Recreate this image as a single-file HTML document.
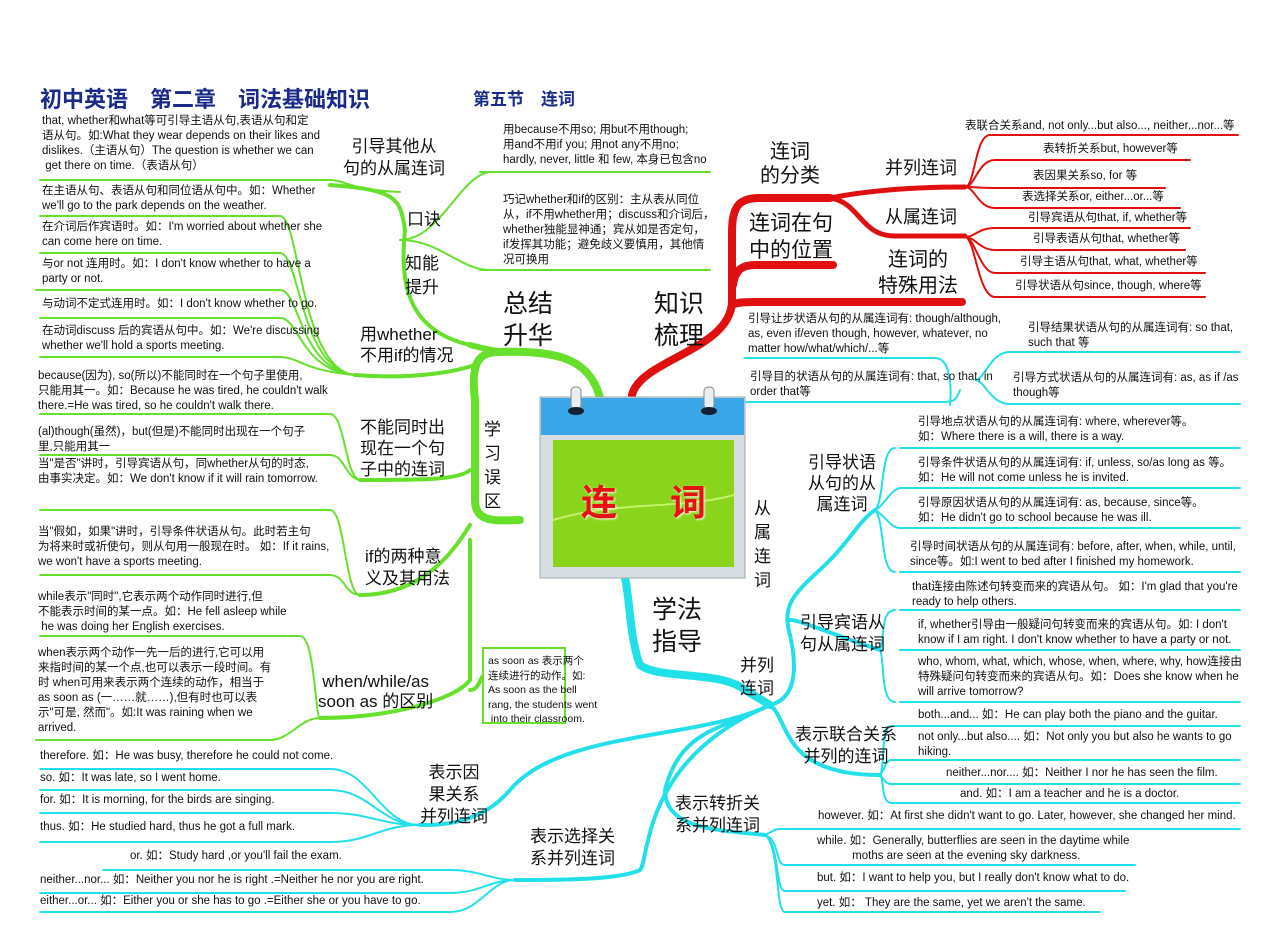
<!DOCTYPE html>
<html><head><meta charset="utf-8">
<style>
*{margin:0;padding:0;box-sizing:border-box}
body{width:1280px;height:949px;background:#fff;position:relative;overflow:hidden;font-family:"Liberation Sans","Noto Sans CJK SC",sans-serif;color:#111}
.t{position:absolute;font-size:11.5px;line-height:15px;white-space:nowrap}
.m{position:absolute;font-size:17px;line-height:21px;text-align:center;white-space:nowrap}
.b{position:absolute;font-size:25px;line-height:32px;text-align:center;white-space:nowrap}
svg{position:absolute;left:0;top:0}
</style></head><body>
<svg width="1280" height="949" fill="none" stroke-linecap="round">
<!-- GREEN -->
<g stroke="#66e02a" stroke-width="2">
<path d="M40 180 H330 C345 180 350 190 400 192"/>
<path d="M40 216 H280 C300 216 300 370 355 375"/>
<path d="M40 253 H280 C300 253 300 370 355 375"/>
<path d="M36 290 H280 C300 290 300 370 355 375"/>
<path d="M40 318 H280 C300 318 300 370 355 375"/>
<path d="M40 357 H280 C300 357 300 370 355 375"/>
<path d="M40 414 H330 C345 414 345 478 360 480"/>
<path d="M40 455 H330 C345 455 345 478 360 480"/>
<path d="M40 510 H330 C345 510 345 595 360 595"/>
<path d="M40 575 H330 C345 575 345 595 360 595"/>
<path d="M40 636 H300 C315 636 315 718 320 718"/>
<path d="M36 740 H270 C290 740 300 718 320 718"/>
<path d="M480 172 H710"/>
<path d="M480 270 H710"/>
<path d="M400 240 C440 240 460 175 490 172"/>
<path d="M400 240 C440 240 460 270 490 270"/>
</g>
<g stroke="#66e02a" stroke-width="4">
<path d="M330 185 C400 190 400 200 405 230 C400 280 405 330 470 345"/>
<path d="M355 375 C420 380 460 370 475 365"/>
<path d="M360 480 C420 480 460 480 470 470"/>
<path d="M360 595 C430 595 460 540 470 525"/>
<path d="M320 718 C390 718 455 700 470 680 L470 540"/>
<path d="M470 690 C480 690 480 675 485 675"/>
</g>
<path d="M600 398 C590 360 560 350 500 352 C480 352 470 360 475 400 L475 500 C475 525 500 520 520 520" stroke="#66e02a" stroke-width="8"/>
<path d="M470 345 C490 350 500 352 510 352" stroke="#66e02a" stroke-width="6"/>
<rect x="483" y="648" width="82" height="75" fill="#fff" stroke="#66e02a" stroke-width="2"/>
<!-- RED -->
<g stroke="#e01010" stroke-width="2">
<path d="M965 187 C975 187 975 135 990 135 H1238"/>
<path d="M965 187 C975 187 978 160 995 160 H1190"/>
<path d="M965 187 C978 187 980 188 995 188 H1165"/>
<path d="M965 187 C975 187 978 208 995 208 H1180"/>
<path d="M965 237 C975 237 978 228 995 228 H1190"/>
<path d="M965 237 C975 237 980 250 995 250 H1185"/>
<path d="M965 237 C975 237 980 273 995 273 H1205"/>
<path d="M965 237 C975 237 978 297 995 297 H1205"/>
</g>
<g stroke="#e01010" stroke-width="5">
<path d="M830 198 C870 190 920 187 965 187"/>
<path d="M830 198 C860 202 860 236 895 236 H965"/>
</g>
<g stroke="#e01010" stroke-width="8">
<path d="M632 395 C640 360 730 350 732 302 L732 232 C732 205 740 198 760 198 H830"/>
<path d="M733 285 C735 270 742 265 755 265 H833"/>
<path d="M732 305 C738 302 745 302 760 302 H962"/>
</g>
<!-- CYAN -->
<g stroke="#22e0ea" stroke-width="2">
<path d="M745 358 H935 C955 358 950 405 950 405"/>
<path d="M745 402 H935 C955 402 955 402 960 390"/>
<path d="M1010 352 H1240"/>
<path d="M1010 404 H1240"/>
<path d="M1010 352 C990 352 985 380 975 380 C985 380 990 404 1010 404"/>
<path d="M900 448 H1240"/><path d="M900 488 H1240"/><path d="M900 528 H1240"/><path d="M900 572 H1240"/>
<path d="M895 448 C880 448 885 500 875 510 C885 520 880 572 895 572"/>
<path d="M875 510 C885 505 890 490 900 488 M875 510 C885 515 890 528 900 528"/>
<path d="M900 610 H1240"/><path d="M900 650 H1240"/><path d="M900 702 H1240"/>
<path d="M895 610 C880 610 885 640 880 650 C885 660 880 702 895 702"/>
<path d="M890 726 H1240"/><path d="M890 760 H1240"/><path d="M890 784 H1240"/><path d="M890 803 H1240"/>
<path d="M892 726 C880 726 885 770 880 775 C885 780 880 803 892 803"/>
<path d="M880 775 C885 770 885 760 892 760 M880 775 C885 780 885 784 892 784"/>
<path d="M780 829 H1240"/><path d="M785 865 H1135"/><path d="M785 891 H1125"/><path d="M785 912 H1100"/>
<path d="M765 835 C775 830 775 829 780 829 M765 835 C780 840 775 865 785 865 M765 835 C780 845 775 891 785 891 M765 835 C780 845 775 912 785 912"/>
<path d="M40 769 H330 C370 769 380 825 420 825"/>
<path d="M40 790 H330 C370 790 380 825 420 825"/>
<path d="M40 813 H330 C370 813 380 825 420 825"/>
<path d="M40 842 H330 C370 842 380 825 420 825"/>
<path d="M103 870 H450 C480 870 490 880 515 880"/>
<path d="M40 893 H450 C480 893 490 880 515 880"/>
<path d="M40 912 H450 C480 912 490 880 515 880"/>
</g>
<g stroke="#22e0ea" stroke-width="4">
<path d="M770 705 C790 700 800 680 790 635 C780 600 800 590 830 560 C850 540 860 520 875 510"/>
<path d="M790 620 C800 620 820 630 880 650"/>
<path d="M770 705 C790 720 780 775 880 775"/>
<path d="M770 705 C720 730 680 730 665 790 C665 830 720 830 765 835"/>
<path d="M770 705 C700 740 560 730 510 790 C480 825 440 825 420 825"/>
<path d="M770 705 C640 760 650 860 640 870 C620 880 560 880 515 880"/>
</g>
<path d="M625 578 C630 600 630 640 640 665 C660 680 720 670 745 690 L770 705" stroke="#22e0ea" stroke-width="8"/>
<!-- calendar -->
<rect x="540" y="397" width="205" height="181" fill="#d8dde2" stroke="#9aa" stroke-width="1"/>
<rect x="541" y="398" width="203" height="37" fill="#3aa7e8"/>
<rect x="553" y="440" width="181" height="127" fill="#8ad51c"/>
<path d="M553 520 C620 500 680 510 734 495" stroke="#c6f06a" stroke-width="2"/>
<rect x="571" y="387" width="10" height="22" rx="4" fill="#e8eef2" stroke="#888"/>
<rect x="704" y="387" width="10" height="22" rx="4" fill="#e8eef2" stroke="#888"/>
<ellipse cx="576" cy="411" rx="8" ry="4" fill="#123"/>
<ellipse cx="709" cy="411" rx="8" ry="4" fill="#123"/>
</svg>
<div style="position:absolute;left:581px;top:474px;font-size:36px;font-weight:bold;color:#e81010;text-shadow:1px 1px 2px #fff">连</div>
<div style="position:absolute;left:670px;top:474px;font-size:36px;font-weight:bold;color:#e81010;text-shadow:1px 1px 2px #fff">词</div>

<div style="position:absolute;left:40px;top:82px;font-size:22px;font-weight:bold;color:#1a2a8a;white-space:pre">初中英语　第二章　词法基础知识</div>
<div style="position:absolute;left:473px;top:85px;font-size:17px;font-weight:bold;color:#1a2a8a;white-space:pre">第五节　连词</div>

<!-- left green texts -->
<div class="t" style="left:42px;top:114px">that, whether和what等可引导主语从句,表语从句和定<br>语从句。如:What they wear depends on their likes and<br>dislikes.（主语从句）The question is whether we can<br>&nbsp;get there on time.（表语从句）</div>
<div class="t" style="left:42px;top:184px">在主语从句、表语从句和同位语从句中。如：Whether<br>we'll go to the park depends on the weather.</div>
<div class="t" style="left:42px;top:220px">在介词后作宾语时。如：I'm worried about whether she<br>can come here on time.</div>
<div class="t" style="left:42px;top:257px">与or not 连用时。如：I don't know whether to have a<br>party or not.</div>
<div class="t" style="left:42px;top:297px">与动词不定式连用时。如：I don't know whether to go.</div>
<div class="t" style="left:42px;top:324px">在动词discuss 后的宾语从句中。如：We're discussing<br>whether we'll hold a sports meeting.</div>
<div class="t" style="left:38px;top:369px">because(因为), so(所以)不能同时在一个句子里使用,<br>只能用其一。如：Because he was tired, he couldn't walk<br>there.=He was tired, so he couldn't walk there.</div>
<div class="t" style="left:38px;top:425px">(al)though(虽然)，but(但是)不能同时出现在一个句子<br>里,只能用其一</div>
<div class="t" style="left:38px;top:457px">当"是否"讲时，引导宾语从句，同whether从句的时态,<br>由事实决定。如：We don't know if it will rain tomorrow.</div>
<div class="t" style="left:38px;top:525px">当"假如，如果"讲时，引导条件状语从句。此时若主句<br>为将来时或祈使句，则从句用一般现在时。 如：If it rains,<br>we won't have a sports meeting.</div>
<div class="t" style="left:38px;top:590px">while表示"同时",它表示两个动作同时进行,但<br>不能表示时间的某一点。如：He fell asleep while<br>&nbsp;he was doing her English exercises.</div>
<div class="t" style="left:38px;top:646px">when表示两个动作一先一后的进行,它可以用<br>来指时间的某一个点,也可以表示一段时间。有<br>时 when可用来表示两个连续的动作，相当于<br>as soon as (一……就……),但有时也可以表<br>示"可是, 然而"。如:It was raining when we<br>arrived.</div>
<div class="t" style="left:488px;top:654px;font-size:10.5px;line-height:14.5px">as soon as 表示两个<br>连续进行的动作。如:<br>As soon as the bell<br>rang, the students went<br>&nbsp;into their classroom.</div>
<div class="t" style="left:503px;top:123px">用because不用so; 用but不用though;<br>用and不用if you; 用not any不用no;<br>hardly, never, little 和 few, 本身已包含no</div>
<div class="t" style="left:503px;top:193px">巧记whether和if的区别：主从表从同位<br>从，if不用whether用；discuss和介词后，<br>whether独能显神通；宾从如是否定句，<br>if发挥其功能；避免歧义要慎用，其他情<br>况可换用</div>

<div class="m" style="left:343px;top:136px;line-height:22px">引导其他从<br>句的从属连词</div>
<div class="m" style="left:407px;top:209px">口诀</div>
<div class="m" style="left:405px;top:252px;line-height:24px">知能<br>提升</div>
<div class="m" style="left:360px;top:324px;text-align:left">用whether<br>不用if的情况</div>
<div class="m" style="left:360px;top:417px;text-align:left;line-height:21px">不能同时出<br>现在一个句<br>子中的连词</div>
<div class="m" style="left:365px;top:546px;text-align:left;line-height:22px">if的两种意<br>义及其用法</div>
<div class="m" style="left:318px;top:672px;line-height:20px">when/while/as<br>soon as 的区别</div>
<div class="m" style="left:484px;top:418px;line-height:24px">学<br>习<br>误<br>区</div>
<div class="b" style="left:503px;top:288px">总结<br>升华</div>
<div class="b" style="left:654px;top:288px">知识<br>梳理</div>
<div class="b" style="left:652px;top:594px">学法<br>指导</div>
<div class="m" style="left:754px;top:497px;line-height:24px">从<br>属<br>连<br>词</div>
<div class="m" style="left:740px;top:654px;text-align:left;line-height:23px">并列<br>连词</div>

<!-- red texts -->
<div class="m" style="left:760px;top:140px;line-height:24px;font-size:20px">连词<br>的分类</div>
<div class="m" style="left:885px;top:158px;font-size:18px">并列连词</div>
<div class="m" style="left:885px;top:207px;font-size:18px">从属连词</div>
<div class="m" style="left:749px;top:210px;font-size:21px;line-height:27px">连词在句<br>中的位置</div>
<div class="m" style="left:878px;top:247px;font-size:20px;line-height:26px">连词的<br>特殊用法</div>
<div class="t" style="left:965px;top:119px">表联合关系and, not only...but also..., neither...nor...等</div>
<div class="t" style="left:1043px;top:142px">表转折关系but, however等</div>
<div class="t" style="left:1033px;top:169px">表因果关系so, for 等</div>
<div class="t" style="left:1022px;top:190px">表选择关系or, either...or...等</div>
<div class="t" style="left:1028px;top:211px">引导宾语从句that, if, whether等</div>
<div class="t" style="left:1033px;top:232px">引导表语从句that, whether等</div>
<div class="t" style="left:1020px;top:255px">引导主语从句that, what, whether等</div>
<div class="t" style="left:1015px;top:279px">引导状语从句since, though, where等</div>

<!-- cyan right -->
<div class="t" style="left:748px;top:312px">引导让步状语从句的从属连词有: though/although,<br>as, even if/even though, however, whatever, no<br>matter how/what/which/...等</div>
<div class="t" style="left:1028px;top:321px">引导结果状语从句的从属连词有: so that,<br>such that 等</div>
<div class="t" style="left:750px;top:370px">引导目的状语从句的从属连词有: that, so that, in<br>order that等</div>
<div class="t" style="left:1013px;top:371px">引导方式状语从句的从属连词有: as, as if /as<br>though等</div>
<div class="m" style="left:808px;top:452px;line-height:21px">引导状语<br>从句的从<br>属连词</div>
<div class="t" style="left:918px;top:415px">引导地点状语从句的从属连词有: where, wherever等。<br>如：Where there is a will, there is a way.</div>
<div class="t" style="left:918px;top:456px">引导条件状语从句的从属连词有: if, unless, so/as long as 等。<br>如：He will not come unless he is invited.</div>
<div class="t" style="left:918px;top:496px">引导原因状语从句的从属连词有: as, because, since等。<br>如：He didn't go to school because he was ill.</div>
<div class="t" style="left:910px;top:540px">引导时间状语从句的从属连词有: before, after, when, while, until,<br>since等。如:I went to bed after I finished my homework.</div>
<div class="m" style="left:800px;top:612px;line-height:22px">引导宾语从<br>句从属连词</div>
<div class="t" style="left:912px;top:580px">that连接由陈述句转变而来的宾语从句。 如：I'm glad that you're<br>ready to help others.</div>
<div class="t" style="left:918px;top:618px">if, whether引导由一般疑问句转变而来的宾语从句。如: I don't<br>know if I am right. I don't know whether to have a party or not.</div>
<div class="t" style="left:918px;top:655px">who, whom, what, which, whose, when, where, why, how连接由<br>特殊疑问句转变而来的宾语从句。如：Does she know when he<br>will arrive tomorrow?</div>
<div class="m" style="left:795px;top:724px;line-height:22px">表示联合关系<br>并列的连词</div>
<div class="t" style="left:918px;top:708px">both...and... 如：He can play both the piano and the guitar.</div>
<div class="t" style="left:918px;top:730px">not only...but also.... 如：Not only you but also he wants to go<br>hiking.</div>
<div class="t" style="left:946px;top:766px">neither...nor.... 如：Neither I nor he has seen the film.</div>
<div class="t" style="left:960px;top:787px">and. 如：I am a teacher and he is a doctor.</div>
<div class="m" style="left:675px;top:793px;text-align:left;line-height:22px">表示转折关<br>系并列连词</div>
<div class="t" style="left:818px;top:809px">however. 如：At first she didn't want to go. Later, however, she changed her mind.</div>
<div class="t" style="left:817px;top:834px">while. 如：Generally, butterflies are seen in the daytime while<br>&nbsp;&nbsp;&nbsp;&nbsp;&nbsp;&nbsp;&nbsp;&nbsp;&nbsp;&nbsp;&nbsp;moths are seen at the evening sky darkness.</div>
<div class="t" style="left:817px;top:871px">but. 如：I want to help you, but I really don't know what to do.</div>
<div class="t" style="left:817px;top:896px">yet. 如： They are the same, yet we aren't the same.</div>

<!-- cyan left -->
<div class="m" style="left:420px;top:762px;line-height:22px">表示因<br>果关系<br>并列连词</div>
<div class="m" style="left:530px;top:826px;line-height:22px">表示选择关<br>系并列连词</div>
<div class="t" style="left:40px;top:749px">therefore. 如：He was busy, therefore he could not come.</div>
<div class="t" style="left:40px;top:771px">so. 如：It was late, so I went home.</div>
<div class="t" style="left:40px;top:793px">for. 如：It is morning, for the birds are singing.</div>
<div class="t" style="left:40px;top:820px">thus. 如：He studied hard, thus he got a full mark.</div>
<div class="t" style="left:130px;top:849px">or. 如：Study hard ,or you'll fail the exam.</div>
<div class="t" style="left:40px;top:873px">neither...nor... 如：Neither you nor he is right .=Neither he nor you are right.</div>
<div class="t" style="left:40px;top:894px">either...or... 如：Either you or she has to go .=Either she or you have to go.</div>
</body></html>
